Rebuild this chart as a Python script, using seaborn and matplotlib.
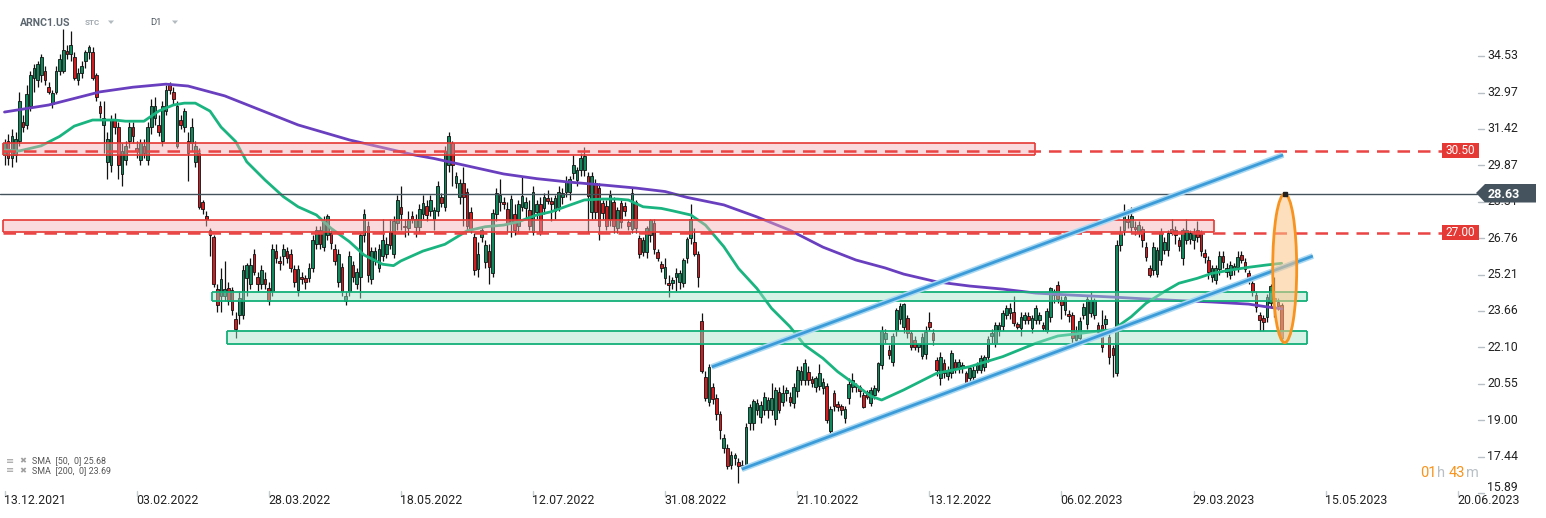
import numpy as np
import matplotlib
matplotlib.use('Agg')  # no display
import matplotlib.pyplot as plt
from matplotlib.patches import Rectangle, Ellipse, Polygon
import seaborn as sns

# ---- candle data (ARNC1.US, D1) ----
opens = [
    30.3, 30.9, 30.2, 30.3, 30.9, 31.7, 31.6, 32.4, 33.6, 33.5,
    33.7, 33.9, 33.2, 32.5, 33.0, 33.9, 33.9, 34.75, 34.6, 34.5,
    33.5, 33.8, 34.3, 34.7, 34.7, 33.7, 32.4, 31.6, 30.0, 29.9,
    31.8, 31.5, 29.5, 30.1, 30.9, 31.5, 30.6, 30.1, 30.7, 30.1,
    31.5, 31.9, 31.6, 30.9, 32.2, 33.3, 33.0, 30.7, 31.8, 31.5,
    30.9, 30.8, 30.0, 30.4, 28.3, 27.7, 27.1, 26.8, 24.6, 24.3,
    24.3, 24.65, 24.55, 23.3, 23.5, 23.5, 25.05, 24.8, 26.1, 25.1,
    24.8, 25.0, 24.65, 24.5, 26.2, 25.8, 26.0, 26.2, 26.1, 25.45,
    24.55, 25.1, 25.05, 25.05, 25.5, 26.5, 27.1, 26.4, 26.9, 26.97,
    26.3, 24.9, 25.55, 24.1, 24.5, 25.6, 24.8, 25.1, 26.9, 27.3,
    25.0, 25.8, 25.5, 26.0, 26.1, 27.04, 26.1, 27.4, 28.1, 27.3,
    27.2, 27.72, 27.25, 27.25, 27.8, 28.15, 27.9, 27.6, 27.9, 28.5,
    28.1, 29.9, 30.8, 29.1, 28.5, 29.1, 28.75, 27.86, 26.8, 25.45,
    26.82, 25.73, 26.2, 25.26, 27.78, 28.3, 28.3, 28.0, 27.4, 27.78,
    27.3, 28.1, 28.06, 27.96, 27.04, 27.86, 28.2, 28.03, 28.46, 28.35,
    27.9, 28.1, 28.5, 28.74, 28.74, 29.53, 29.24, 29.67, 29.67, 29.43,
    27.86, 29.1, 28.9, 28.25, 28.15, 27.6, 28.29, 27.18, 28.25, 28.15,
    27.44, 27.15, 28.29, 26.75, 26.16, 26.16, 26.9, 27.4, 26.18, 25.66,
    25.05, 24.86, 24.86, 25.12, 24.9, 24.84, 25.9, 26.75, 26.6, 26.09,
    23.23, 20.86, 19.79, 20.43, 19.93, 19.26, 17.8, 17.8, 17.09, 17.37,
    17.23, 17.09, 17.02, 18.86, 18.86, 19.43, 19.15, 19.43, 19.43, 19.43,
    19.03, 20.2, 19.79, 20.14, 20.0, 19.72, 20.26, 20.72, 20.72, 21.07,
    20.74, 20.43, 20.46, 20.36, 20.46, 18.55, 20.14, 19.69, 19.6, 19.08,
    19.93, 20.4, 20.5, 20.4, 20.07, 20.2, 19.75, 20.07, 20.29, 21.35,
    22.45, 22.0, 21.5, 22.85, 23.3, 22.96, 23.34, 22.7, 22.42, 22.14,
    21.74, 21.82, 23.17, 22.73, 21.57, 20.79, 21.43, 20.88, 21.0, 21.5,
    21.28, 21.21, 21.0, 20.79, 20.86, 21.14, 21.14, 21.28, 21.68, 22.59,
    22.28, 22.82, 23.02, 23.49, 23.56, 23.63, 23.1, 22.92, 23.27, 23.45,
    22.92, 23.27, 23.27, 23.06, 22.82, 23.42, 24.34, 24.76, 24.12, 23.7,
    23.53, 23.49, 22.42, 22.49, 23.49, 23.1, 23.56, 23.49, 23.06, 23.06,
    23.1, 22.56, 22.06, 21.0, 26.47, 27.11, 27.6, 27.25, 27.25, 27.04,
    27.14, 26.4, 25.47, 25.4, 25.23, 25.83, 26.26, 26.26, 27.14, 27.11,
    26.68, 25.9, 26.68, 26.71, 26.68, 27.11, 26.97, 26.11, 25.83, 25.12,
    24.98, 25.43, 26.0, 25.33, 25.19, 25.43, 25.52, 26.04, 25.76, 25.26,
    24.86, 24.34, 23.49, 23.34, 23.42, 23.98, 24.2, 24.05, 23.91,
]
highs = [
    31.0, 31.2, 31.4, 31.3, 33.0, 32.0, 33.3, 33.9, 34.2, 34.3,
    34.6, 34.1, 33.4, 33.1, 34.1, 34.6, 35.7, 35.0, 35.6, 34.7,
    34.0, 34.3, 34.8, 35.0, 34.9, 33.8, 32.6, 32.6, 31.3, 32.0,
    32.1, 31.7, 30.8, 30.9, 31.7, 31.7, 30.9, 31.0, 31.0, 31.7,
    32.7, 32.8, 32.0, 32.6, 33.3, 33.4, 33.2, 32.6, 32.0, 32.3,
    31.3, 31.9, 30.9, 30.6, 28.4, 27.9, 27.2, 26.9, 24.8, 25.5,
    25.8, 24.9, 24.7, 23.6, 24.5, 25.6, 25.7, 25.9, 26.3, 25.3,
    25.6, 25.3, 24.9, 26.5, 26.5, 26.0, 26.5, 26.4, 26.3, 25.6,
    25.6, 25.3, 25.2, 25.7, 26.9, 27.3, 27.3, 27.7, 27.8, 27.1,
    26.5, 26.3, 25.7, 24.5, 26.2, 25.8, 25.5, 27.0, 28.0, 27.5,
    26.4, 26.4, 26.5, 27.6, 26.8, 27.6, 27.7, 28.6, 29.0, 27.6,
    27.9, 27.9, 27.8, 28.2, 28.6, 28.4, 28.6, 28.1, 29.2, 28.7,
    30.7, 31.3, 30.9, 29.6, 29.3, 29.8, 28.9, 28.1, 27.0, 26.6,
    27.3, 26.7, 26.5, 28.0, 28.9, 29.3, 28.5, 28.3, 28.6, 28.2,
    28.4, 29.4, 28.5, 28.4, 29.0, 28.4, 28.5, 28.7, 28.8, 28.5,
    28.6, 29.0, 28.9, 29.4, 29.4, 30.3, 29.8, 30.4, 30.66, 29.6,
    29.6, 29.3, 29.1, 28.4, 28.4, 28.8, 28.5, 28.1, 28.4, 28.3,
    27.6, 28.9, 28.4, 26.9, 26.8, 27.3, 27.6, 27.6, 26.3, 25.8,
    25.9, 25.2, 25.1, 25.5, 25.4, 25.9, 26.8, 28.2, 27.2, 26.2,
    23.58, 21.1, 21.4, 20.6, 20.1, 19.4, 18.4, 18.0, 17.7, 17.6,
    17.4, 17.3, 18.9, 19.7, 19.9, 19.9, 19.8, 20.2, 20.0, 20.6,
    20.4, 20.4, 20.5, 20.4, 20.2, 20.6, 21.3, 21.3, 21.6, 21.3,
    20.9, 20.9, 21.4, 20.8, 20.6, 19.6, 20.3, 19.8, 19.7, 19.6,
    20.8, 21.0, 20.6, 20.5, 20.2, 20.3, 20.4, 20.5, 21.5, 23.0,
    22.9, 22.2, 22.7, 23.8, 24.0, 24.0, 23.5, 22.8, 22.6, 22.3,
    22.7, 23.0, 23.6, 22.9, 21.7, 21.9, 21.6, 21.3, 22.0, 21.6,
    21.6, 21.5, 21.1, 21.3, 21.3, 21.5, 21.8, 21.8, 22.6, 22.9,
    23.2, 23.2, 23.7, 23.9, 24.0, 24.3, 23.2, 23.6, 23.6, 23.6,
    23.5, 23.9, 23.6, 23.2, 23.8, 24.7, 24.6, 24.95, 24.3, 24.4,
    23.7, 23.6, 23.0, 23.4, 24.0, 24.3, 24.5, 24.2, 23.2, 23.7,
    23.5, 22.7, 22.2, 26.7, 27.3, 28.2, 28.0, 28.1, 27.5, 27.5,
    27.3, 26.6, 25.6, 26.6, 26.4, 27.2, 26.8, 27.1, 27.6, 27.3,
    26.8, 27.2, 27.6, 27.1, 27.2, 27.5, 27.1, 26.3, 26.0, 25.6,
    25.6, 26.2, 26.2, 25.7, 25.8, 25.7, 26.2, 26.2, 25.9, 25.4,
    25.0, 24.5, 23.6, 23.5, 24.4, 24.8, 25.1, 24.2, 24.0,
]
lows = [
    29.9, 29.9, 29.8, 30.0, 30.7, 31.3, 31.4, 32.2, 33.0, 33.2,
    33.4, 33.3, 32.9, 32.3, 32.9, 33.7, 33.8, 34.4, 34.3, 33.5,
    33.3, 33.6, 34.0, 34.4, 33.5, 32.6, 31.9, 30.4, 29.3, 29.6,
    31.2, 29.3, 29.0, 29.9, 30.6, 30.8, 30.2, 29.9, 30.2, 29.9,
    31.2, 31.6, 31.1, 30.7, 32.0, 32.9, 32.5, 30.6, 31.4, 31.3,
    29.2, 30.5, 29.8, 28.0, 27.8, 27.3, 26.0, 24.7, 23.6, 23.6,
    24.1, 23.9, 23.5, 22.5, 23.1, 23.3, 24.3, 24.6, 25.2, 24.5,
    24.6, 24.6, 23.9, 24.3, 25.7, 25.4, 25.6, 25.7, 25.3, 24.7,
    24.3, 24.8, 24.6, 24.9, 25.3, 26.3, 26.3, 26.2, 26.7, 26.3,
    25.6, 24.7, 24.3, 23.9, 24.3, 24.9, 24.6, 24.2, 26.6, 24.9,
    24.8, 25.6, 25.3, 25.8, 25.9, 26.3, 25.9, 27.1, 27.1, 26.8,
    26.9, 27.4, 26.8, 27.0, 27.6, 27.5, 27.7, 27.1, 27.7, 28.1,
    27.9, 29.6, 29.0, 28.9, 28.2, 27.3, 27.1, 27.0, 25.2, 25.1,
    26.6, 25.5, 24.8, 25.1, 27.5, 27.9, 28.0, 27.0, 26.8, 26.9,
    27.0, 27.9, 27.6, 27.1, 26.9, 27.6, 26.9, 27.8, 28.2, 27.5,
    27.6, 27.9, 28.2, 28.5, 28.4, 29.3, 29.0, 29.4, 29.4, 27.0,
    27.6, 27.6, 26.7, 27.6, 27.1, 27.3, 27.0, 27.0, 27.2, 27.7,
    27.1, 27.0, 27.0, 25.9, 26.0, 25.9, 26.6, 26.1, 25.8, 25.3,
    24.8, 24.27, 24.6, 24.5, 24.6, 24.7, 25.7, 26.5, 26.0, 24.7,
    21.0, 19.8, 19.6, 19.7, 19.0, 18.2, 17.6, 16.9, 16.9, 17.1,
    16.3, 16.9, 16.9, 18.6, 18.6, 19.2, 18.9, 19.2, 19.1, 19.2,
    18.8, 19.3, 19.6, 19.8, 19.6, 19.5, 20.0, 20.5, 20.5, 20.5,
    20.4, 20.2, 20.3, 20.1, 18.9, 18.3, 19.4, 19.4, 19.2, 18.9,
    19.7, 20.2, 20.2, 20.0, 19.5, 19.9, 19.6, 19.9, 20.2, 21.2,
    22.3, 21.6, 21.3, 22.6, 23.1, 22.7, 22.5, 22.0, 22.0, 21.9,
    21.6, 21.6, 22.8, 22.2, 20.9, 20.5, 20.8, 20.7, 20.8, 21.0,
    21.0, 21.0, 20.4, 20.6, 20.7, 21.0, 21.0, 21.1, 21.5, 22.3,
    22.1, 22.6, 22.8, 23.3, 23.3, 23.0, 22.9, 22.6, 23.1, 23.1,
    22.7, 23.1, 23.1, 22.8, 22.7, 23.2, 24.0, 24.0, 23.3, 23.5,
    23.2, 22.3, 22.2, 22.3, 23.3, 22.9, 23.4, 23.3, 22.6, 21.9,
    22.9, 21.4, 20.85, 20.9, 26.2, 26.9, 27.2, 27.0, 26.9, 26.8,
    26.4, 25.8, 25.1, 25.2, 25.1, 25.6, 26.1, 26.0, 26.9, 26.5,
    26.2, 25.6, 26.5, 26.5, 26.3, 26.6, 26.0, 25.7, 25.0, 24.9,
    24.8, 25.2, 25.5, 25.1, 25.0, 25.2, 25.3, 25.7, 25.3, 24.8,
    24.3, 23.6, 22.8, 22.8, 23.2, 23.8, 23.4, 23.7, 22.4,
]
closes = [
    30.8, 30.2, 31.1, 31.0, 32.6, 31.5, 32.9, 33.7, 34.0, 34.2,
    34.5, 33.5, 33.0, 32.95, 33.9, 34.4, 34.8, 34.6, 35.0, 33.6,
    33.8, 34.1, 34.7, 34.9, 33.6, 32.8, 32.1, 31.9, 31.0, 31.8,
    31.5, 29.9, 30.5, 30.7, 31.5, 31.1, 30.5, 30.8, 30.4, 31.5,
    32.4, 32.4, 31.3, 32.4, 33.1, 33.1, 32.7, 32.4, 31.6, 32.2,
    30.4, 31.5, 30.7, 28.1, 28.0, 27.6, 26.9, 24.8, 23.9, 25.0,
    24.6, 24.1, 23.7, 22.9, 24.2, 25.4, 25.6, 25.6, 25.3, 24.8,
    25.4, 24.8, 24.1, 26.3, 25.9, 25.7, 26.3, 25.9, 25.5, 24.9,
    25.45, 25.0, 24.9, 25.5, 26.7, 27.1, 26.5, 27.5, 27.7, 26.54,
    25.8, 26.1, 24.5, 24.3, 26.0, 25.1, 25.3, 26.9, 27.8, 25.2,
    26.2, 26.2, 26.3, 26.7, 26.5, 26.47, 27.5, 28.4, 27.8, 27.25,
    27.6, 27.6, 27.6, 28.0, 28.25, 27.75, 28.4, 27.96, 29.0, 28.25,
    30.5, 31.1, 29.9, 29.4, 29.1, 28.5, 27.3, 27.11, 25.4, 26.07,
    27.11, 26.47, 25.55, 27.82, 28.67, 28.6, 28.2, 27.4, 28.43, 27.11,
    28.2, 28.57, 28.3, 27.3, 28.74, 28.2, 27.04, 28.53, 28.35, 28.2,
    28.46, 28.74, 28.67, 29.17, 29.3, 29.88, 29.67, 30.2, 30.26, 28.57,
    29.43, 27.86, 27.3, 27.82, 27.3, 28.6, 27.3, 27.96, 27.46, 27.92,
    27.3, 28.67, 27.18, 26.07, 26.68, 27.18, 27.53, 26.3, 25.9, 25.48,
    25.52, 24.77, 24.98, 25.26, 25.26, 25.83, 26.71, 27.6, 26.1, 25.12,
    21.11, 19.93, 21.28, 19.89, 19.26, 18.6, 18.22, 17.04, 17.51, 17.51,
    17.04, 16.99, 18.72, 19.57, 19.82, 19.75, 19.65, 20.0, 19.86, 19.93,
    20.3, 19.43, 20.14, 20.3, 19.79, 20.43, 21.14, 21.11, 21.45, 20.72,
    20.6, 20.78, 21.02, 20.64, 19.0, 19.46, 19.6, 19.55, 19.43, 19.46,
    20.54, 20.71, 20.4, 20.26, 19.58, 20.0, 20.29, 20.36, 21.42, 22.82,
    22.7, 21.78, 22.59, 23.7, 23.87, 23.96, 22.7, 22.14, 22.14, 22.25,
    22.56, 22.77, 22.99, 22.42, 21.14, 21.71, 21.0, 21.14, 21.85, 21.21,
    21.5, 21.35, 20.57, 21.21, 21.14, 21.35, 21.64, 21.71, 22.45, 22.73,
    23.06, 23.06, 23.56, 23.77, 23.77, 23.13, 22.99, 23.42, 23.49, 23.27,
    23.34, 23.77, 23.49, 22.92, 23.66, 24.62, 24.52, 24.15, 23.91, 24.27,
    23.44, 22.49, 22.78, 23.24, 23.81, 24.15, 24.12, 24.12, 22.78, 22.13,
    23.3, 21.71, 21.78, 26.47, 26.97, 27.75, 27.46, 27.7, 27.14, 27.32,
    26.68, 25.94, 25.19, 26.4, 26.26, 27.04, 26.61, 26.97, 27.0, 26.9,
    26.43, 27.11, 27.11, 26.97, 26.97, 26.8, 26.23, 25.94, 25.33, 25.47,
    25.47, 26.0, 25.76, 25.47, 25.62, 25.57, 25.94, 25.83, 25.43, 25.0,
    24.48, 23.84, 23.27, 23.2, 24.27, 24.72, 24.1, 23.87, 22.49,
]

# moving averages (sampled along the curve, candle index / value)
sma50_idx = [0, 4, 10, 15, 19, 24, 30, 33, 38, 42, 46, 49, 52, 56, 59, 63, 66, 71, 76, 80,
             85, 89, 94, 98, 103, 106, 108, 114, 120, 126, 131, 136, 140, 145, 149, 154, 158,
             163, 167, 170, 174, 179, 182, 187, 191, 196, 200, 205, 209, 214, 218, 223, 227,
             232, 236, 239, 245, 254, 263, 272, 281, 287, 293, 299, 302, 307, 311, 316, 320,
             325, 329, 334, 339, 344, 348]
sma50_val = [30.52, 30.48, 30.7, 31.1, 31.54, 31.8, 31.8, 31.75, 31.75, 32.18, 32.44, 32.52,
             32.52, 32.18, 31.5, 30.88, 30.02, 29.24, 28.53, 28.1, 27.75, 27.18, 26.61, 26.04,
             25.65, 25.59, 25.79, 26.21, 26.5, 27.07, 27.25, 27.32, 27.46, 27.75, 27.89, 28.17,
             28.39, 28.43, 28.43, 28.39, 28.1, 28.03, 27.93, 27.75, 27.32, 26.4, 25.47, 24.62,
             23.77, 22.99, 22.2, 21.64, 21.07, 20.5, 20.03, 19.86, 20.29, 21.0, 21.28, 21.71,
             22.28, 22.59, 22.7, 22.82, 22.85, 23.41, 23.98, 24.48, 24.84, 25.05, 25.26, 25.4,
             25.52, 25.62, 25.69]
sma200_idx = [0, 12, 26, 35, 44, 50, 55, 60, 80, 94, 112, 117, 136, 145, 154, 163, 172, 180,
              186, 196, 205, 214, 223, 232, 240, 245, 254, 263, 272, 281, 290, 302, 311, 320,
              329, 339, 344, 348]
sma200_val = [32.14, 32.44, 33.0, 33.2, 33.33, 33.25, 33.04, 32.83, 31.59, 30.95, 30.3, 30.16,
              29.5, 29.3, 29.15, 29.03, 28.9, 28.75, 28.5, 28.18, 27.67, 27.1, 26.38, 25.83,
              25.49, 25.23, 24.9, 24.72, 24.59, 24.42, 24.34, 24.25, 24.17, 24.1, 24.04, 23.95,
              23.83, 23.75]

# drawn objects
red_zones = [(30.31, 30.82, 280.8), (27.02, 27.54, 329.6)]   # (low, high, right end idx)
green_zones = [(24.08, 24.47, 56.5), (22.25, 22.80, 60.6)]   # (low, high, left start idx)
levels = [30.50, 27.00]
last_price = 28.63
chan_upper = ([192.7, 348.4], [21.27, 30.31])
chan_lower = ([200.9, 356.5], [16.91, 26.00])

price_ticks = [34.53, 32.97, 31.42, 29.87, 28.31, 26.76, 25.21, 23.66, 22.10, 20.55, 19.00, 17.44, 15.89]
date_labels = ["13.12.2021", "03.02.2022", "28.03.2022", "18.05.2022", "12.07.2022", "31.08.2022",
               "21.10.2022", "13.12.2022", "06.02.2023", "29.03.2023", "15.05.2023", "20.06.2023"]

W, H = 1546, 518
X0, DX = 4.5, 3.67          # pixel of candle 0, pixels per candle
Y0, P0, DY = 56, 34.53, 23.45


def ix(xp):
    return (xp - X0) / DX


def pr(yp):
    return P0 - (yp - Y0) / DY


def fx(xp):
    return xp / W


def fy(yp):
    return 1 - yp / H


sns.set_theme(style="white")
plt.rcParams['font.family'] = ['Roboto', 'DejaVu Sans']

fig = plt.figure(figsize=(W / 100, H / 100), dpi=100)
ax = fig.add_axes([0, 0, 1, 1])
ax.set_xlim(ix(0), ix(W))
ax.set_ylim(pr(H), pr(0))
ax.axis('off')

o = np.array(opens)
h = np.array(highs)
l = np.array(lows)
c = np.array(closes)
idx = np.arange(len(c))
up = c >= o

# candles
ax.vlines(idx, l, h, color='#111111', lw=0.9, zorder=2)
body_lo = np.minimum(o, c)
body_h = np.maximum(np.abs(c - o), 0.05)
ax.bar(idx, body_h, bottom=body_lo, width=0.72,
       color=np.where(up, '#0e8a5c', '#d41b20'), edgecolor='#111111', linewidth=0.6, zorder=3)

# moving averages
sns.lineplot(x=sma200_idx, y=sma200_val, ax=ax, color='#6a3fbf', lw=2, sort=False,
             estimator=None, zorder=4)
sns.lineplot(x=sma50_idx, y=sma50_val, ax=ax, color='#19b47f', lw=2, sort=False,
             estimator=None, zorder=4)

# zones
for lo, hi, right in red_zones:
    ax.add_patch(Rectangle((ix(3), lo), right - ix(3), hi - lo, facecolor='#f4aeb2', alpha=0.45,
                           edgecolor='none', zorder=5))
    ax.hlines([lo, hi], ix(3), right, color='#e53935', lw=1.2, zorder=5)
    ax.vlines([ix(3), right], lo, hi, color='#e53935', lw=1.2, zorder=5)
for lo, hi, left in green_zones:
    ax.add_patch(Rectangle((left, lo), ix(1307) - left, hi - lo, facecolor='#a5e4c9', alpha=0.45,
                           edgecolor='none', zorder=5))
    ax.hlines([lo, hi], left, ix(1307), color='#12b07a', lw=1.3, zorder=5)
    ax.vlines([left, ix(1307)], lo, hi, color='#12b07a', lw=1.3, zorder=5)

# dashed levels
for lv in levels:
    ax.plot([ix(3), ix(1442)], [lv, lv], color='#ea4444', lw=1.8, ls=(0, (5, 3.2)), zorder=6)

# last price line
ax.plot([ix(0), ix(1477)], [last_price, last_price], color='#44525c', lw=1, zorder=6)

# channel lines
for xs, ys in (chan_upper, chan_lower):
    ax.plot(xs, ys, color='#a9d8f2', lw=4.2, solid_capstyle='butt', zorder=6)
    ax.plot(xs, ys, color='#3b9bd8', lw=2, solid_capstyle='butt', zorder=6)

# orange ellipse
ax.add_patch(Ellipse((ix(1284.7), pr(268.3)), 24 / DX, 148.7 / DY, facecolor='#fdc68a', alpha=0.55,
                     edgecolor='none', zorder=7))
ax.add_patch(Ellipse((ix(1284.7), pr(268.3)), 24 / DX, 148.7 / DY, facecolor='none',
                     edgecolor='#f7931e', lw=2, zorder=7))
ax.plot([ix(1285)], [last_price], marker='s', ms=3, color='#222222', zorder=8)

# price axis labels (the lowest one is held just above the date row)
for p in price_ticks:
    ax.plot([ix(1478), ix(1484)], [p, p], color='#b8c0c5', lw=1, zorder=6, clip_on=False)
    ax.text(ix(1487), max(p, pr(488)), f"{p:.2f}", ha='left', va='center', fontsize=8.8,
            color='#222222', zorder=6)

# level labels
for lv in levels:
    ax.add_patch(Rectangle((ix(1442), lv - 7.5 / DY), 37 / DX, 15 / DY, facecolor='#e53935',
                           edgecolor='none', zorder=9))
    ax.text(ix(1460.5), lv, f"{lv:.2f}", ha='center', va='center', fontsize=8.5, color='white', zorder=10)

# last price tag (covers the upper half of the 28.31 label, as on the platform)
tag = [(1476, 193), (1485, 184), (1536, 184), (1536, 202.5), (1485, 202.5)]
ax.add_patch(Polygon([(ix(xp), pr(yp)) for xp, yp in tag], closed=True, facecolor='#44535d',
                     edgecolor='none', zorder=9))
ax.text(ix(1488), last_price, f"{last_price:.2f}", ha='left', va='center', fontsize=9,
        fontweight='bold', color='white', zorder=10)

# date axis
for k, lab in enumerate(date_labels):
    pos = k * 36
    ax.plot([pos, pos], [pr(491), pr(496)], color='#c5ccd0', lw=1)
    ax.text(pos - 0.2, pr(501), lab, ha='left', va='center', fontsize=8.9, color='#222222')

# header
fig.text(fx(20), fy(22.5), "ARNC1.US", fontsize=7.6, fontweight='bold', color='#5c6770', va='center')
fig.text(fx(85), fy(22.5), "STC", fontsize=5.8, fontweight='bold', color='#a3abb1', va='center')
fig.text(fx(150), fy(22.5), "D1", fontsize=6.8, color='#4f5a62', va='center')
for tx in (108, 172):
    fig.patches.append(Polygon([(fx(tx), fy(20.5)), (fx(tx + 6), fy(20.5)), (fx(tx + 3), fy(24))],
                               closed=True, transform=fig.transFigure, facecolor='#b3bac0',
                               edgecolor='none'))

# SMA legend
for yy, txt in ((461, "SMA  [50,  0] 25.68"), (470.5, "SMA  [200,  0] 23.69")):
    fig.text(fx(6), fy(yy), "\u2261", fontsize=7, color='#a0a0a0', va='center')
    fig.text(fx(19.5), fy(yy), "\u2716", fontsize=6, color='#a0a0a0', va='center',
             family=['DejaVu Sans'])
    fig.text(fx(31.5), fy(yy), txt, fontsize=6.4, color='#555555', va='center')

# countdown
fig.text(fx(1420), fy(473), "01", fontsize=10.5, color='#f7941d', va='center')
fig.text(fx(1437), fy(473), "h", fontsize=10.5, color='#b9c0c5', va='center')
fig.text(fx(1449), fy(473), "43", fontsize=10.5, color='#f7941d', va='center')
fig.text(fx(1466), fy(473), "m", fontsize=10.5, color='#b9c0c5', va='center')

fig.savefig("out.png", dpi=100, facecolor='white')
